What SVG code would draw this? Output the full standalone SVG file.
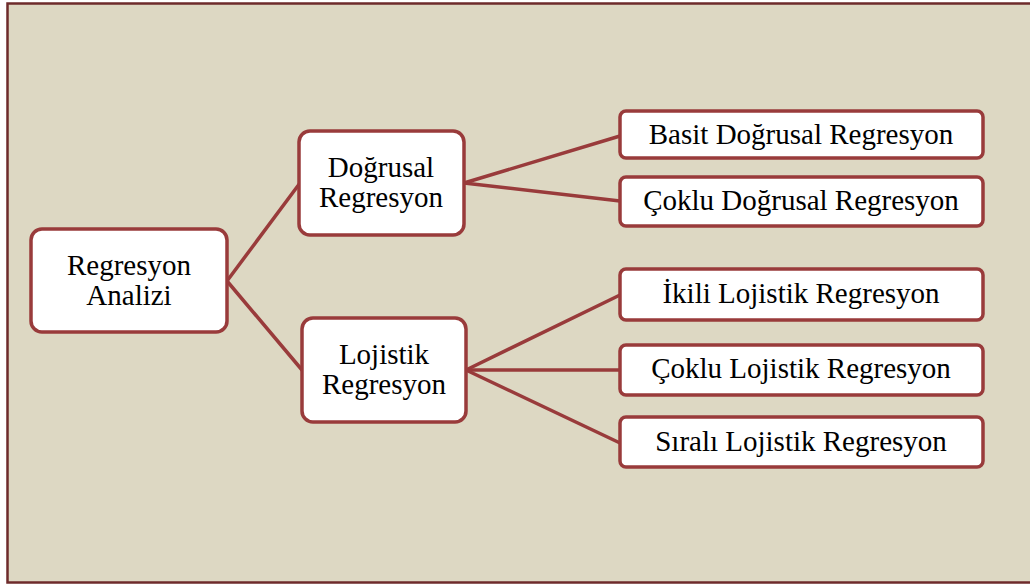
<svg xmlns="http://www.w3.org/2000/svg" width="1030" height="587" viewBox="0 0 1030 587">
<style>
.node rect{fill:#ffffff;stroke:#993b3b;stroke-width:3.5}
.node text{font-family:"Liberation Serif","Times New Roman",serif;font-size:29px;fill:#000;text-anchor:middle}
#connectors line{stroke:#993b3b;stroke-width:3.5;stroke-linecap:round}
</style>
<rect x="0" y="0" width="1030" height="587" fill="#ffffff"/>
<rect id="frame" x="7.5" y="3.5" width="1030" height="579" fill="#ddd8c3" stroke="#6e2b2b" stroke-width="2.5"/>
<g id="connectors">
<line x1="227" y1="281" x2="300" y2="183"/>
<line x1="227" y1="281" x2="302" y2="370"/>
<line x1="464" y1="183" x2="620" y2="136"/>
<line x1="464" y1="183" x2="620" y2="201"/>
<line x1="466" y1="370" x2="620" y2="295"/>
<line x1="466" y1="370" x2="620" y2="370"/>
<line x1="466" y1="370" x2="620" y2="443"/>
</g>
<g id="n-regresyon-analizi" class="node">
<rect x="31" y="229" width="196" height="103" rx="11"/>
<text x="129" y="275">Regresyon</text>
<text x="129" y="305">Analizi</text>
</g>
<g id="n-dogrusal" class="node">
<rect x="299" y="131" width="165" height="104" rx="11"/>
<text x="381" y="177">Doğrusal</text>
<text x="381" y="207">Regresyon</text>
</g>
<g id="n-lojistik" class="node">
<rect x="302" y="318" width="164" height="104" rx="11"/>
<text x="384" y="364">Lojistik</text>
<text x="384" y="394">Regresyon</text>
</g>
<g id="n-basit" class="node">
<rect x="620" y="111" width="363" height="47" rx="6"/>
<text x="801" y="144">Basit Doğrusal Regresyon</text>
</g>
<g id="n-coklu-dogrusal" class="node">
<rect x="620" y="177" width="363" height="49" rx="6"/>
<text x="801" y="210">Çoklu Doğrusal Regresyon</text>
</g>
<g id="n-ikili" class="node">
<rect x="620" y="269" width="363" height="51" rx="6"/>
<text x="801" y="303">İkili Lojistik Regresyon</text>
</g>
<g id="n-coklu-lojistik" class="node">
<rect x="620" y="345" width="363" height="50" rx="6"/>
<text x="801" y="378">Çoklu Lojistik Regresyon</text>
</g>
<g id="n-sirali" class="node">
<rect x="620" y="417" width="363" height="50" rx="6"/>
<text x="801" y="451">Sıralı Lojistik Regresyon</text>
</g>
</svg>
